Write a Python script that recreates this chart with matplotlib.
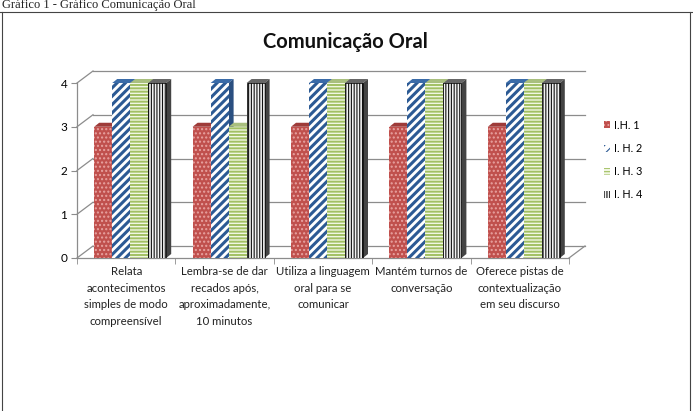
import matplotlib
matplotlib.use("Agg")
import matplotlib.pyplot as plt
from matplotlib.patches import Polygon, Rectangle
import numpy as np

categories = [
    "Relata\nacontecimentos\nsimples de modo\ncompreensível",
    "Lembra-se de dar\nrecados após,\naproximadamente,\n10 minutos",
    "Utiliza a linguagem\noral para se\ncomunicar",
    "Mantém turnos de\nconversação",
    "Oferece pistas de\ncontextualização\nem seu discurso",
]
series_names = ["I.H. 1", "I. H. 2", "I. H. 3", "I. H. 4"]
ih1 = [3, 3, 3, 3, 3]
ih2 = [4, 4, 4, 4, 4]
ih3 = [4, 3, 4, 4, 4]
ih4 = [4, 4, 4, 4, 4]
yticks = [0, 1, 2, 3, 4]

# style per series: face, hatch colour, hatch, hatch lw, top colour, side colour
styles = [
    ("#C0504D", "#E8A3A1", "....", 1.0, "#9E3B39", "#8E3432"),
    ("#FFFFFF", "#2C5A94", "////", 2.2, "#3A6BA8", "#2A4F80"),
    ("#F0F6E2", "#A2C063", "-----", 1.4, "#A9BF7E", "#8AA55A"),
    ("#F2F2F2", "#111111", "||||||", 0.8, "#666666", "#444444"),
]

plt.rcParams["font.family"] = ["Lato", "DejaVu Sans"]

W_PX, H_PX = 693, 411
fig = plt.figure(figsize=(W_PX / 100, H_PX / 100), dpi=100)

ax_l, ax_r, ax_t, ax_b = 77, 569, 83, 258
ax = fig.add_axes([ax_l / W_PX, 1 - ax_b / H_PX, (ax_r - ax_l) / W_PX, (ax_b - ax_t) / H_PX])
xlim = (-0.5, 4.5)
ylim = (0, 4)
ax.set_xlim(*xlim)
ax.set_ylim(*ylim)

px_x = (xlim[1] - xlim[0]) / (ax_r - ax_l)
px_y = (ylim[1] - ylim[0]) / (ax_b - ax_t)

# back wall offset and bar depth (pixels)
wall_dx, wall_dy = 16 * px_x, 12 * px_y
bar_dx, bar_dy = 5 * px_x, 4 * px_y

grid_c = "#8C8C8C"
for v in yticks:
    ax.plot([xlim[0] + wall_dx, xlim[1] + wall_dx], [v + wall_dy, v + wall_dy],
            color=grid_c, lw=0.9, zorder=1, clip_on=False)
    ax.plot([xlim[0], xlim[0] + wall_dx], [v, v + wall_dy],
            color=grid_c, lw=0.9, zorder=1, clip_on=False)
ax.plot([xlim[1], xlim[1] + wall_dx], [0, wall_dy], color=grid_c, lw=0.9, zorder=1, clip_on=False)

x = np.arange(len(categories))
bw = 18 * px_x
shift = 4 * px_x
data = [ih1, ih2, ih3, ih4]
handles = []
for i, (vals, st) in enumerate(zip(data, styles)):
    face, hc, hatch, hlw, topc, side = st
    plt.rcParams["hatch.linewidth"] = hlw
    xs = x + shift + (i - 1.5) * bw
    bars = ax.bar(xs, vals, width=bw, color=face, edgecolor=hc, hatch=hatch,
                  linewidth=0, zorder=3 + i * 2)
    handles.append(bars)
    for xc, h in zip(xs, vals):
        x0, x1 = xc - bw / 2, xc + bw / 2
        top = Polygon([[x0, h], [x1, h], [x1 + bar_dx, h + bar_dy], [x0 + bar_dx, h + bar_dy]],
                      closed=True, facecolor=topc, edgecolor="none",
                      zorder=2 + i * 2, clip_on=False)
        right = Polygon([[x1, 0], [x1 + bar_dx, bar_dy], [x1 + bar_dx, h + bar_dy], [x1, h]],
                        closed=True, facecolor=side, edgecolor="none",
                        zorder=2 + i * 2, clip_on=False)
        ax.add_patch(top)
        ax.add_patch(right)
        if i == 3:
            ax.add_patch(Rectangle((x0, 0), bw, h, fill=False, edgecolor="#111111",
                                   lw=0.6, zorder=3 + i * 2))

for s in ["top", "right"]:
    ax.spines[s].set_visible(False)
for s in ["left", "bottom"]:
    ax.spines[s].set_color(grid_c)
    ax.spines[s].set_linewidth(0.9)

ax.set_yticks(yticks)
ax.tick_params(axis="y", length=4, color=grid_c, labelsize=8.5, pad=3)
ax.set_xticks(x)
ax.set_xticklabels(categories, fontsize=8.2, linespacing=1.62, color="#222222")
ax.tick_params(axis="x", length=0, pad=6)
ax.set_xticks(np.arange(xlim[0], xlim[1] + 0.01, 1), minor=True)
ax.tick_params(axis="x", which="minor", length=4, color=grid_c)

leg = fig.legend(handles, series_names, loc="upper left", bbox_to_anchor=(594 / W_PX, 1 - 110 / H_PX),
                 frameon=False, fontsize=7.8, handlelength=0.6, handleheight=0.6,
                 labelspacing=1.12, handletextpad=0.35)

fig.text(345 / W_PX, 1 - 42 / H_PX, "Comunicação Oral", ha="center", va="center",
         fontsize=14.5, fontweight="bold", color="#111111")

fig.text(2 / W_PX, 1 - 8 / H_PX, "Gráfico 1 - Gráfico Comunicação Oral", ha="left",
         va="baseline", fontsize=9, family=["Liberation Serif"], color="#222222")

# page frame
fig.add_artist(plt.Line2D([0, 1], [1 - 12.5 / H_PX] * 2, color="#444444", lw=0.8))
fig.add_artist(plt.Line2D([1.5 / W_PX] * 2, [0, 1 - 12.5 / H_PX], color="#444444", lw=0.8))
fig.add_artist(plt.Line2D([690 / W_PX] * 2, [0, 1 - 12.5 / H_PX], color="#444444", lw=0.8))

fig.savefig("out.png", dpi=100)
